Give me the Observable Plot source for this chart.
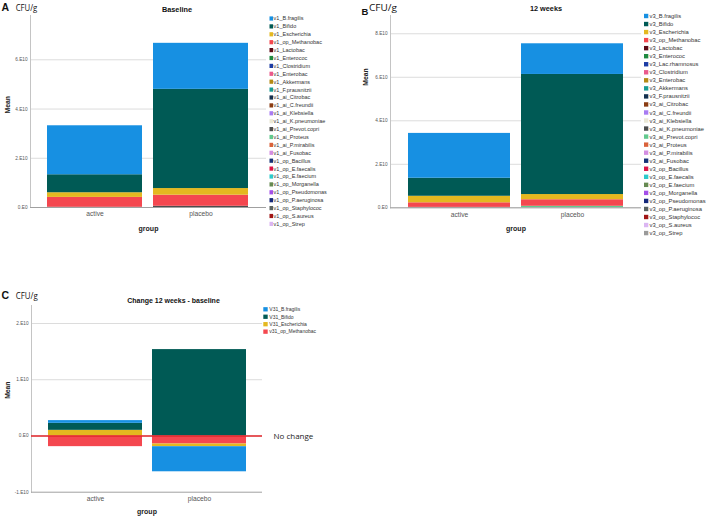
<!DOCTYPE html>
<html>
<head>
<meta charset="utf-8">
<script src="https://cdn.jsdelivr.net/npm/d3@7"></script>
<script src="https://cdn.jsdelivr.net/npm/@observablehq/plot@0.6"></script>
<style>
  body { margin: 0; background: #fff; }
  #root { position: relative; width: 708px; height: 520px; overflow: hidden; background: #fff; }
  .panel { position: absolute; }
</style>
</head>
<body>
<div id="root"></div>
<script>
// ---------- data ----------
const groups = ["active", "placebo"];

const palette = ["#1790e2","#005a55","#e4b820","#f4474f","#5c0a16","#1f8a40","#1c3ca4","#ea5a8c","#b48a14","#189c94",
  "#13304f","#8a3c12","#a87cf2","#eae8d6","#4d4d4d","#62c98e","#d9623a","#d38ee2","#163276","#dc1446",
  "#2ccacb","#668a52","#a34fe8","#15287a","#5a6361","#a01515","#dbb6f2","#9a9a9a"];

const seriesA = ["v1_B.fragilis","v1_Bifido","v1_Escherichia","v1_op_Methanobac","v1_Lactobac","v1_Enterococ",
  "v1_Clostridium","v1_Enterobac","v1_Akkermans","v1_F.prausnitzii","v1_ai_Citrobac","v1_ai_C.freundii",
  "v1_ai_Klebsiella","v1_ai_K.pneumoniae","v1_ai_Prevot.copri","v1_ai_Proteus","v1_ai_P.mirabilis","v1_ai_Fusobac",
  "v1_op_Bacillus","v1_op_E.faecalis","v1_op_E.faecium","v1_op_Morganella","v1_op_Pseudomonas","v1_op_P.aeruginosa",
  "v1_op_Staphylococ","v1_op_S.aureus","v1_op_Strep"];
const activeA  = [1.99e10, 0.73e10, 0.19e10, 0.40e10, 0, 0, 0, 0, 0, 0, 0, 0, 0, 0, 0.01e10, 0, 0, 0, 0, 0, 0, 0, 0, 0, 0, 0, 0];
const placeboA = [1.87e10, 4.03e10, 0.27e10, 0.45e10, 0, 0, 0, 0, 0, 0, 0, 0, 0, 0, 0.05e10, 0, 0, 0, 0, 0, 0, 0, 0, 0, 0, 0, 0];

const seriesB = ["v3_B.fragilis","v3_Bifido","v3_Escherichia","v3_op_Methanobac","v3_Lactobac","v3_Enterococ",
  "v3_Lac.rhamnosus","v3_Clostridium","v3_Enterobac","v3_Akkermans","v3_F.prausnitzii","v3_ai_Citrobac",
  "v3_ai_C.freundii","v3_ai_Klebsiella","v3_ai_K.pneumoniae","v3_ai_Prevot.copri","v3_ai_Proteus","v3_ai_P.mirabilis",
  "v3_ai_Fusobac","v3_op_Bacillus","v3_op_E.faecalis","v3_op_E.faecium","v3_op_Morganella","v3_op_Pseudomonas",
  "v3_op_P.aeruginosa","v3_op_Staphylococ","v3_op_S.aureus","v3_op_Strep"];
const activeB  = [2.06e10, 0.83e10, 0.30e10, 0.21e10, 0.02e10, 0, 0, 0, 0, 0, 0, 0, 0, 0, 0, 0, 0, 0, 0, 0, 0, 0, 0, 0, 0, 0, 0, 0];
const placeboB = [1.41e10, 5.52e10, 0.24e10, 0.30e10, 0, 0, 0, 0, 0, 0, 0, 0, 0, 0, 0, 0.07e10, 0, 0, 0, 0, 0, 0, 0, 0, 0, 0, 0, 0];

const seriesC = ["V31_B.fragilis","V31_Bifido","V31_Escherichia","v31_op_Methanobac"];
const activeC  = [0.048e10, 0.125e10, 0.10e10, -0.19e10];
const placeboC = [-0.446e10, 1.536e10, -0.048e10, -0.143e10];

const ticksA = [0, 2e10, 4e10, 6e10];
const tickLabelsA = ["0.E0", "2.E10", "4.E10", "6.E10"];
const ticksB = [0, 2e10, 4e10, 6e10, 8e10];
const tickLabelsB = ["0.E0", "2.E10", "4.E10", "6.E10", "8.E10"];
const ticksC = [-1e10, 0, 1e10, 2e10];
const tickLabelsC = ["-1.E10", "0.E0", "1.E10", "2.E10"];

const FONT = "'Liberation Sans', Arial, sans-serif";

// ---------- panels ----------
function makeRows(series, values) {
  const rows = [];
  for (let i = series.length - 1; i >= 0; --i) {
    groups.forEach((g, j) => {
      const v = values[j][i];
      if (v !== 0) rows.push({group: g, series: series[i], value: v});
    });
  }
  return rows;
}

function panel(o) {
  const rows = makeRows(o.series, o.values);
  const grid = o.ticks.filter(t => t !== o.yDomain[0] && t !== 0);
  return Plot.plot({
    width: o.width, height: o.height,
    marginLeft: o.marginLeft, marginRight: o.marginRight,
    marginTop: o.marginTop, marginBottom: o.marginBottom,
    style: {fontFamily: FONT, background: "transparent"},
    x: {domain: groups, paddingInner: 0.1, paddingOuter: 0.155, align: 0.5},
    y: {domain: o.yDomain},
    color: {domain: o.series, range: palette.slice(0, o.series.length)},
    marks: [
      Plot.ruleY(grid, {stroke: "#dcdcdc", strokeWidth: 1}),
      Plot.ruleY([0], {stroke: "#dcdcdc", strokeWidth: 1}),
      Plot.barY(rows, {x: "group", y: "value", fill: "series"}),
      Plot.frame({anchor: "left", stroke: "#c4c4c4"}),
      Plot.ruleY([o.yDomain[0]], {stroke: "#a0a0a0", strokeWidth: 1}),
      ...(o.extra || []),
      Plot.axisY({ticks: o.ticks, tickFormat: d => o.tickLabels[o.ticks.indexOf(d)], tickSize: 0, tickPadding: 3,
        fontSize: 4.7, fill: "#555", label: null}),
      Plot.axisX({tickSize: 0, tickPadding: 4, fontSize: 6.7, fill: "#555", label: null}),
      Plot.text(["Mean"], {text: d => d, frameAnchor: "left", dx: -o.meanDx, dy: o.meanDy || 0, rotate: -90,
        fontWeight: "bold", fontSize: 6.8, fill: "#222"}),
      Plot.text(["group"], {text: d => d, frameAnchor: "bottom", dy: o.groupDy, fontWeight: "bold", fontSize: 7, fill: "#222"})
    ]
  });
}

const root = document.getElementById("root");
function place(el, left, top) {
  el.classList.add("panel");
  el.style.left = left + "px";
  el.style.top = top + "px";
  root.appendChild(el);
  return el;
}

const chartA = panel({
  series: seriesA, values: [activeA, placeboA], yDomain: [0, 7.8e10],
  ticks: ticksA, tickLabels: tickLabelsA,
  width: 268, height: 240, marginLeft: 30, marginRight: 2, marginTop: 15, marginBottom: 33,
  meanDx: 23, meanDy: 2, groupDy: 23
});
place(chartA, 0, 0);

const chartB = panel({
  series: seriesB, values: [activeB, placeboB], yDomain: [0, 8.84e10],
  ticks: ticksB, tickLabels: tickLabelsB,
  width: 288, height: 240, marginLeft: 35, marginRight: 2, marginTop: 15, marginBottom: 32.7,
  meanDx: 25, meanDy: -26, groupDy: 23
});
place(chartB, 355, 0);

const chartC = panel({
  series: seriesC, values: [activeC, placeboC], yDomain: [-1e10, 2.32e10],
  ticks: ticksC, tickLabels: tickLabelsC,
  width: 320, height: 230, marginLeft: 31, marginRight: 58, marginTop: 15, marginBottom: 28.3,
  meanDx: 24, meanDy: 0, groupDy: 22,
  extra: [
    Plot.ruleY([0], {stroke: "#e3262b", strokeWidth: 1.4}),
    Plot.text([0], {y: d => d, text: () => "No change", frameAnchor: "right", dx: 11, textAnchor: "start",
      fontSize: 8, fill: "#222", fontFamily: "'Open Sans', 'Liberation Sans', sans-serif"})
  ]
});
place(chartC, 0, 290);

// ---------- overlay: panel letters, titles, legends ----------
const ov = d3.select(root).append("svg")
  .attr("width", 708).attr("height", 520)
  .style("position", "absolute").style("left", 0).style("top", 0)
  .style("pointer-events", "none")
  .style("font-family", FONT);

function label(t, x, y, size, weight, anchor, len, family) {
  const el = ov.append("text").attr("x", x).attr("y", y).attr("font-size", size)
    .attr("font-weight", weight).attr("text-anchor", anchor || "start").attr("fill", "#111").text(t);
  if (family) el.attr("font-family", family);
  if (len) el.attr("textLength", len).attr("lengthAdjust", "spacingAndGlyphs");
}

label("A", 1.5, 10.7, 10.5, "bold");
label("CFU/g", 15.7, 10.5, 9, "normal", "start", 21.6, "'Open Sans', sans-serif");
label("Baseline", 177, 12, 7.3, "bold", "middle");

label("B", 361.5, 14.5, 9.5, "bold");
label("CFU/g", 369, 10.5, 9, "normal", "start", 28, "'Open Sans', sans-serif");
label("12 weeks", 546, 11, 7.3, "bold", "middle");

label("C", 1.5, 299.3, 10.5, "bold");
label("CFU/g", 15.7, 299, 9, "normal", "start", 22, "'Open Sans', sans-serif");
label("Change 12 weeks - baseline", 173.5, 302.5, 7, "bold", "middle");

function legend(series, chart, o) {
  const color = chart.scale("color");
  series.forEach((s, i) => {
    const cy = o.y0 + i * o.dy;
    ov.append("rect").attr("x", o.sx).attr("y", cy - o.sh / 2).attr("width", o.sw).attr("height", o.sh)
      .attr("fill", color.apply(s));
    ov.append("text").attr("x", o.tx).attr("y", cy).attr("dy", "0.35em")
      .attr("font-size", o.fs).attr("fill", "#333").text(s);
  });
}
legend(seriesA, chartA, {y0: 18.5, dy: 7.9, sx: 269.5, sw: 3.6, sh: 4.2, tx: 273.6, fs: 5.5});
legend(seriesB, chartB, {y0: 16, dy: 8.04, sx: 644, sw: 4.3, sh: 4.4, tx: 649.5, fs: 5.8});
legend(seriesC, chartC, {y0: 309.3, dy: 7.45, sx: 263.3, sw: 4.4, sh: 4.3, tx: 269.3, fs: 5});
</script>
</body>
</html>
